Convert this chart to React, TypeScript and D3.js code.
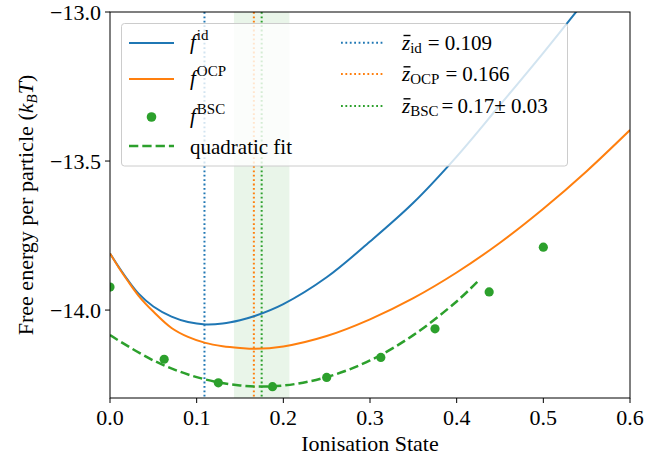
import React from "react";
import * as d3 from "d3";

const zIdeal = [0, 0.01, 0.02, 0.033, 0.05, 0.071, 0.09, 0.11, 0.13, 0.15, 0.167, 0.2, 0.25, 0.3, 0.35, 0.4, 0.45, 0.5, 0.55];
const fIdeal = [-13.81, -13.855, -13.897, -13.945, -13.988, -14.022, -14.04, -14.048, -14.045, -14.034, -14.02, -13.98, -13.89, -13.77, -13.64, -13.485, -13.312, -13.137, -12.955];

const zOcp = [0, 0.01, 0.02, 0.033, 0.05, 0.071, 0.09, 0.11, 0.13, 0.15, 0.167, 0.2, 0.25, 0.3, 0.35, 0.4, 0.45, 0.5, 0.55, 0.6];
const fOcp = [-13.81, -13.857, -13.9, -13.952, -14.005, -14.06, -14.09, -14.11, -14.121, -14.127, -14.13, -14.122, -14.087, -14.031, -13.96, -13.874, -13.774, -13.66, -13.534, -13.396];

const zBsc = [0, 0.0625, 0.125, 0.1875, 0.25, 0.3125, 0.375, 0.4375, 0.5];
const fBsc = [-13.923, -14.165, -14.244, -14.257, -14.226, -14.159, -14.063, -13.939, -13.789];

const zFit = [0, 0.05, 0.1, 0.15, 0.2, 0.25, 0.3, 0.35, 0.4, 0.425];
const fFit = [-14.084, -14.169, -14.225, -14.253, -14.253, -14.225, -14.169, -14.084, -13.971, -13.902];

const zMeanId = 0.109;
const zMeanOcp = 0.166;
const zMeanBsc = 0.175;
const zBscErr = 0.032;

const xTicks = [0, 0.1, 0.2, 0.3, 0.4, 0.5, 0.6];
const yTicks = [-14.0, -13.5, -13.0];

const W = 668, H = 459;
const L = 110, R = 630, T = 12, B = 398;
const BLUE = "#1f77b4", ORANGE = "#ff7f0e", GREEN = "#2ca02c";
const FONT = "'Liberation Serif', 'DejaVu Serif', serif";

export default function App() {
  const x = d3.scaleLinear().domain([0, 0.6]).range([L, R]);
  const y = d3.scaleLinear().domain([-14.295, -13]).range([B, T]);
  const line = d3.line<[number, number]>().x(d => x(d[0])).y(d => y(d[1])).curve(d3.curveCatmullRom.alpha(0.5));
  const pId = line(zIdeal.map((z, i) => [z, fIdeal[i]]) as [number, number][]) || "";
  const pOcp = line(zOcp.map((z, i) => [z, fOcp[i]]) as [number, number][]) || "";
  const pFit = line(zFit.map((z, i) => [z, fFit[i]]) as [number, number][]) || "";
  const dot = "1.8,2.6";

  const col1 = [43, 79, 117, 146];
  const col2 = [42.7, 74, 106];
  const c1x0 = 129, c1x1 = 174, c1t = 190;
  const c2x0 = 341, c2x1 = 383, c2t = 402;

  const fLabel = (yy: number, sup: string) => (
    <text x={c1t} y={yy + 6} fontFamily={FONT} fontSize={21} fill="#000">
      <tspan fontStyle="italic">f</tspan>
      <tspan fontSize={15} dy={-9} dx={1}>{sup}</tspan>
    </text>
  );
  const zLabel = (yy: number, sub: string, val: string, g1: number, g2: number) => (
    <g>
      <text x={c2t} y={yy + 7.3} fontFamily={FONT} fontSize={21} fill="#000">
        <tspan fontStyle="italic">z</tspan>
        <tspan fontSize={15} dy={3}>{sub}</tspan>
        <tspan dy={-3} dx={g1}>=</tspan>
        <tspan dx={g2}>{val}</tspan>
      </text>
      <line x1={c2t + 1.5} x2={c2t + 8.5} y1={yy + 7.3 - 14.5} y2={yy + 7.3 - 14.5} stroke="#000" strokeWidth={1.4} />
    </g>
  );

  return (
    <svg width={W} height={H} style={{ position: "absolute", left: 0, top: 0, background: "#fff" }}>
      <defs>
        <clipPath id="plot">
          <rect x={L} y={T} width={R - L} height={B - T} />
        </clipPath>
      </defs>
      <g clipPath="url(#plot)">
        <rect x={x(zMeanBsc - zBscErr)} y={T} width={x(zMeanBsc + zBscErr) - x(zMeanBsc - zBscErr)} height={B - T} fill={GREEN} opacity={0.1} />
        <line x1={x(zMeanId)} x2={x(zMeanId)} y1={T} y2={B} stroke={BLUE} strokeWidth={2} strokeDasharray={dot} />
        <line x1={x(zMeanOcp)} x2={x(zMeanOcp)} y1={T} y2={B} stroke={ORANGE} strokeWidth={2} strokeDasharray={dot} />
        <line x1={x(zMeanBsc)} x2={x(zMeanBsc)} y1={T} y2={B} stroke={GREEN} strokeWidth={2} strokeDasharray={dot} />
        <path d={pId} fill="none" stroke={BLUE} strokeWidth={2} />
        <path d={pOcp} fill="none" stroke={ORANGE} strokeWidth={2} />
        <path d={pFit} fill="none" stroke={GREEN} strokeWidth={2.5} strokeDasharray="9.3,4" />
        {zBsc.map((z, i) => (
          <circle key={i} cx={x(z)} cy={y(fBsc[i])} r={4.6} fill={GREEN} />
        ))}
      </g>
      <rect x={L} y={T} width={R - L} height={B - T} fill="none" stroke="#000" strokeWidth={1} />
      {xTicks.map(t => (
        <g key={t}>
          <line x1={x(t)} x2={x(t)} y1={B} y2={B + 5} stroke="#000" strokeWidth={1} />
          <text x={x(t)} y={425} textAnchor="middle" fontFamily={FONT} fontSize={22}>{t.toFixed(1)}</text>
        </g>
      ))}
      {yTicks.map(t => (
        <g key={t}>
          <line x1={L - 5} x2={L} y1={y(t)} y2={y(t)} stroke="#000" strokeWidth={1} />
          <text x={L - 9} y={y(t) + 7.5} textAnchor="end" fontFamily={FONT} fontSize={22}>{"\u2212" + Math.abs(t).toFixed(1)}</text>
        </g>
      ))}
      <text x={(L + R) / 2} y={451} textAnchor="middle" fontFamily={FONT} fontSize={22}>Ionisation State</text>
      <text transform={`translate(33,${(T + B) / 2}) rotate(-90)`} textAnchor="middle" fontFamily={FONT} fontSize={22}>
        Free energy per particle (<tspan fontStyle="italic">k</tspan><tspan fontStyle="italic" fontSize={15} dy={4}>B</tspan><tspan fontStyle="italic" dy={-4}>T</tspan>)
      </text>
      <rect x={121.5} y={23.5} width={446} height={142.5} rx={3} fill="#fff" fillOpacity={0.8} stroke="#cccccc" strokeWidth={1} />
      <line x1={c1x0} x2={c1x1} y1={col1[0]} y2={col1[0]} stroke={BLUE} strokeWidth={2} />
      {fLabel(col1[0], "id")}
      <line x1={c1x0} x2={c1x1} y1={col1[1]} y2={col1[1]} stroke={ORANGE} strokeWidth={2} />
      {fLabel(col1[1], "OCP")}
      <circle cx={(c1x0 + c1x1) / 2} cy={col1[2]} r={4.8} fill={GREEN} />
      {fLabel(col1[2], "BSC")}
      <line x1={c1x0} x2={c1x1} y1={col1[3]} y2={col1[3]} stroke={GREEN} strokeWidth={2.5} strokeDasharray="9.3,4" />
      <text x={c1t} y={col1[3] + 7.5} fontFamily={FONT} fontSize={21}>quadratic fit</text>
      <line x1={c2x0} x2={c2x1} y1={col2[0]} y2={col2[0]} stroke={BLUE} strokeWidth={2} strokeDasharray={dot} />
      {zLabel(col2[0], "id", "0.109", 6, 5)}
      <line x1={c2x0} x2={c2x1} y1={col2[1]} y2={col2[1]} stroke={ORANGE} strokeWidth={2} strokeDasharray={dot} />
      {zLabel(col2[1], "OCP", "0.166", 6, 5)}
      <line x1={c2x0} x2={c2x1} y1={col2[2]} y2={col2[2]} stroke={GREEN} strokeWidth={2} strokeDasharray={dot} />
      {zLabel(col2[2], "BSC", "0.17\u00b1 0.03", 3, 4)}
    </svg>
  );
}
